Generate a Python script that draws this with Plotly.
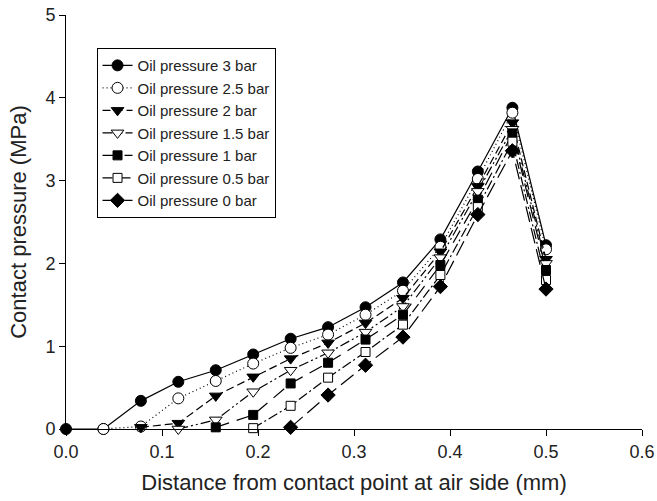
import plotly.graph_objects as go

# x positions (mm)
x_all = [0.0, 0.039, 0.078, 0.117, 0.156, 0.195, 0.234, 0.273, 0.312, 0.351, 0.39, 0.429, 0.465, 0.5]

names = ["Oil pressure 3 bar", "Oil pressure 2.5 bar", "Oil pressure 2 bar",
         "Oil pressure 1.5 bar", "Oil pressure 1 bar", "Oil pressure 0.5 bar",
         "Oil pressure 0 bar"]

# contact pressure (MPa); each series starts at a different x index
start_idx = [0, 1, 2, 3, 4, 5, 6]
p_3 = [0.0, 0.0, 0.34, 0.57, 0.71, 0.90, 1.09, 1.23, 1.47, 1.77, 2.29, 3.11, 3.88, 2.22]
p_25 = [0.0, 0.03, 0.37, 0.58, 0.79, 0.98, 1.14, 1.38, 1.67, 2.20, 3.02, 3.82, 2.17]
p_2 = [0.02, 0.07, 0.40, 0.63, 0.85, 1.04, 1.28, 1.58, 2.14, 2.93, 3.70, 2.05]
p_15 = [0.0, 0.11, 0.45, 0.71, 0.92, 1.17, 1.48, 2.07, 2.87, 3.62, 2.00]
p_1 = [0.02, 0.17, 0.55, 0.80, 1.08, 1.38, 1.98, 2.77, 3.57, 1.92]
p_05 = [0.01, 0.28, 0.62, 0.93, 1.26, 1.86, 2.68, 3.47, 1.80]
p_0 = [0.02, 0.41, 0.77, 1.11, 1.72, 2.59, 3.36, 1.69]
series = [p_3, p_25, p_2, p_15, p_1, p_05, p_0]

symbols = ["circle", "circle", "triangle-down", "triangle-down", "square", "square", "diamond"]
fills = ["black", "white", "black", "white", "black", "white", "black"]
sizes = [11, 11, 11, 11, 9, 9, 11]
dashes = ["solid", "1px,3px", "8px,4px", "10px,3px,2px,3px,2px,3px", "14px,8px",
          "10px,3px,2px,3px", "16px,6px"]

fig = go.Figure()
for name, s, y, sym, fc, sz, d in zip(names, start_idx, series, symbols, fills, sizes, dashes):
    fig.add_trace(go.Scatter(
        x=x_all[s:s + len(y)], y=y, name=name, mode="lines+markers",
        line=dict(color="black", width=1.2, dash=d),
        marker=dict(symbol=sym, size=sz, color=fc, line=dict(color="black", width=1)),
        cliponaxis=False,
    ))

font = "Liberation Sans, Arial, sans-serif"
fig.update_layout(
    width=657, height=501,
    margin=dict(l=66, r=15, t=15, b=72),
    plot_bgcolor="white", paper_bgcolor="white",
    font=dict(family=font, size=18, color="#222"),
    showlegend=True,
    legend=dict(x=0.053, y=0.92, xanchor="left", yanchor="top",
                bordercolor="black", borderwidth=1, bgcolor="white",
                font=dict(size=15, family=font), tracegroupgap=0),
    xaxis=dict(range=[0, 0.6], tickvals=[0, 0.1, 0.2, 0.3, 0.4, 0.5, 0.6],
               ticktext=["0.0", "0.1", "0.2", "0.3", "0.4", "0.5", "0.6"],
               ticklabeloverflow="allow", automargin=False,
               showgrid=False, zeroline=False, showline=True, linecolor="black", linewidth=1,
               ticks="outside", ticklen=6, tickcolor="black",
               title=dict(text="Distance from contact point at air side (mm)", standoff=14)),
    yaxis=dict(range=[0, 5], tickvals=[0, 1, 2, 3, 4, 5], automargin=False,
               showgrid=False, zeroline=False, showline=True, linecolor="black", linewidth=1,
               ticks="outside", ticklen=6, tickcolor="black",
               title=dict(text="Contact pressure (MPa)", standoff=12)),
)

fig.write_html("out.html")
